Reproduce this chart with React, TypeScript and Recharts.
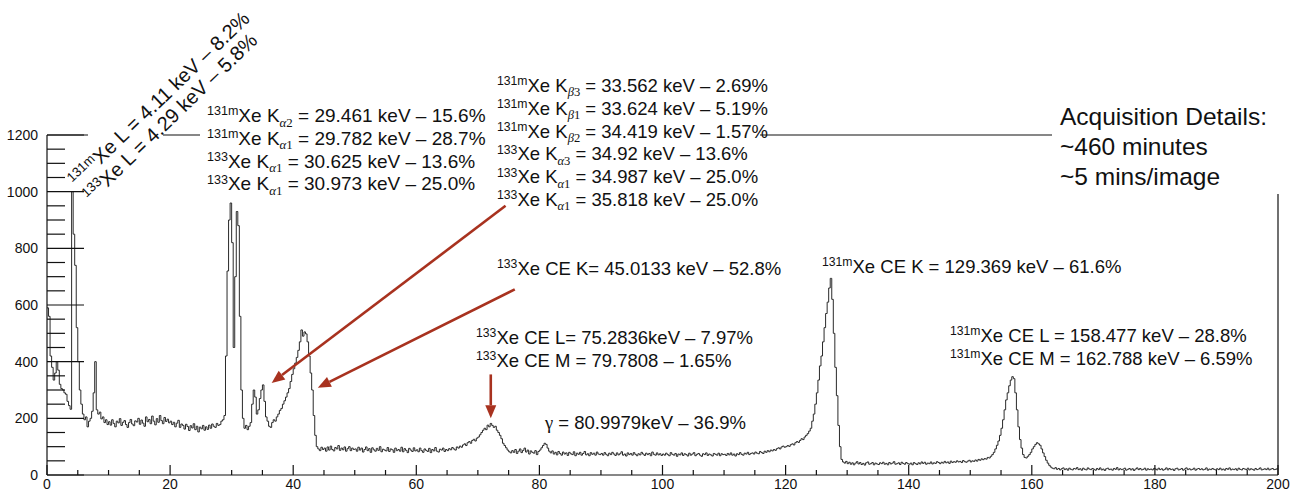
import { LineChart, Line, XAxis, YAxis, ReferenceLine } from "recharts";

// spectrum, 0.25 keV bins, counts
const BIN = 0.25;

const counts0to50 = [
  590, 560, 420, 380, 335, 360, 400, 370, 320, 305, 300, 290, 285, 260, 245, 232, 1000, 850, 740, 520,
  400, 300, 250, 215, 195, 205, 170, 190, 200, 225, 290, 400, 230, 215, 222, 198, 205, 185, 195, 178,
  188, 176, 195, 182, 170, 190, 184, 199, 175, 186, 192, 178, 168, 185, 196, 180, 174, 191, 187, 200,
  179, 194, 183, 172, 205, 188, 196, 181, 208, 190, 177, 199, 186, 210, 192, 181, 203, 189, 197, 184,
  190, 178, 186, 170, 183, 193, 168, 180, 175, 162, 179, 171, 157, 174, 166, 181, 160, 172, 152, 169,
  163, 175, 158, 170, 161, 176, 165, 180, 172, 168, 182, 175, 178, 190, 195, 210, 420, 720, 900, 960,
  820, 450, 700, 930, 880, 560, 300, 200, 165, 175, 160, 172, 185, 250, 300, 275, 215, 230, 270, 300,
  318, 260, 205, 190, 172, 168, 185, 195, 190, 205, 215, 228, 235, 250, 262, 275, 290, 305, 330, 355,
  375, 395, 415, 440, 470, 512, 490, 505, 498, 470, 420, 360, 300, 210, 140, 100, 92, 86, 98, 90,
  95, 84, 99, 88, 102, 90, 85, 97, 92, 104, 87, 95, 89, 99, 84, 93, 100, 86, 95, 90,
];

const counts50to100 = [
  92, 84, 98, 88, 95, 81, 90, 99, 86, 93, 80, 96, 89, 84, 94, 87, 100, 82, 91, 88,
  85, 97, 83, 92, 89, 80, 95, 86, 90, 84, 98, 82, 93, 87, 79, 94, 88, 83, 96, 85,
  89, 82, 95, 86, 80, 92, 87, 83, 94, 79, 90, 85, 97, 84, 81, 91, 88, 95, 83, 90,
  86, 93, 89, 97, 92, 88, 99, 95, 102, 98, 106, 110, 104, 114, 118, 112, 122, 126, 120, 130,
  134, 142, 150, 158, 165, 160, 176, 170, 182, 175, 168, 172, 158, 150, 140, 128, 112, 104, 96, 88,
  82, 78, 86, 80, 90, 76, 84, 92, 79, 87, 95, 81, 88, 74, 85, 80, 77, 86, 72, 83,
  88, 96, 104, 112, 108, 95, 84, 78, 85, 74, 80, 71, 83, 76, 70, 81, 74, 78, 69, 80,
  75, 72, 82, 68, 77, 73, 80, 70, 76, 83, 71, 75, 68, 79, 73, 77, 70, 81, 74, 72,
  76, 70, 79, 73, 68, 77, 72, 80, 74, 69, 78, 71, 75, 82, 70, 74, 67, 78, 72, 76,
  70, 79, 73, 68, 75, 71, 80, 74, 69, 77, 72, 76, 68, 81, 73, 70, 78, 71, 75, 69,
];

const counts100to150 = [
  74, 70, 77, 72, 68, 79, 73, 70, 76, 66, 74, 71, 78, 69, 75, 72, 67, 77, 70, 74,
  79, 68, 73, 76, 70, 66, 75, 72, 78, 69, 74, 71, 67, 76, 73, 70, 77, 68, 75, 72,
  73, 69, 76, 71, 78, 70, 74, 67, 75, 72, 79, 73, 70, 77, 74, 80, 72, 76, 78, 74,
  81, 77, 75, 83, 79, 76, 84, 80, 86, 82, 88, 85, 90, 87, 93, 96, 92, 99, 102, 98,
  100, 104, 101, 107, 110, 106, 114, 118, 115, 122, 128, 125, 134, 140, 146, 155, 165, 190, 215, 250,
  290, 335, 385, 420, 470, 520, 570, 610, 660, 694, 620, 500, 380, 280, 175, 100, 55, 46, 42, 48,
  40, 45, 38, 43, 36, 42, 47, 39, 44, 37, 41, 35, 43, 46, 38, 40, 44, 36, 42, 39,
  37, 43, 40, 45, 38, 41, 36, 44, 39, 42, 47, 38, 40, 43, 37, 45, 41, 38, 44, 40,
  38, 42, 36, 44, 40, 37, 43, 39, 46, 41, 45, 38, 42, 40, 46, 39, 43, 41, 47, 44,
  40, 45, 42, 48, 43, 46, 41, 49, 44, 47, 45, 50, 46, 48, 44, 51, 47, 45, 49, 52,
];

const counts150to200 = [
  46, 50, 48, 53, 49, 55, 52, 57, 54, 58, 56, 62, 60, 66, 72, 80, 92, 105, 120, 140,
  165, 195, 230, 265, 290, 315, 335, 347, 340, 290, 230, 170, 125, 95, 72, 62, 60, 66, 72, 80,
  92, 100, 108, 114, 110, 105, 92, 78, 65, 52, 42, 34, 28, 24, 22, 26, 20, 23, 18, 22,
  25, 19, 22, 17, 24, 20, 18, 23, 21, 26, 19, 22, 17, 24, 20, 18, 25, 21, 19, 23,
  20, 17, 23, 19, 25, 18, 21, 16, 22, 24, 19, 21, 17, 23, 20, 26, 18, 22, 19, 21,
  24, 17, 20, 23, 18, 22, 16, 21, 25, 19, 23, 18, 20, 24, 17, 22, 19, 21, 18, 23,
  21, 18, 24, 19, 22, 17, 20, 25, 18, 23, 19, 21, 16, 22, 24, 18, 20, 23, 17, 21,
  25, 19, 22, 18, 20, 24, 17, 21, 23, 19, 22, 18, 20, 25, 17, 21, 19, 23, 20, 18,
  22, 19, 24, 18, 21, 17, 23, 20, 25, 18, 21, 19, 22, 17, 24, 20, 18, 23, 21, 19,
  24, 18, 22, 20, 17, 23, 19, 21, 25, 18, 20, 22, 19, 24, 18, 21, 23, 19, 20, 22,
];

const xTicks = [
  0, 5, 10, 15, 20, 25, 30, 35, 40, 45, 50, 55, 60, 65, 70, 75, 80, 85, 90, 95, 100,
  105, 110, 115, 120, 125, 130, 135, 140, 145, 150, 155, 160, 165, 170, 175, 180, 185, 190, 195, 200,
];
const yTicks = [
  0, 50, 100, 150, 200, 250, 300, 350, 400, 450, 500, 550, 600, 650, 700, 750, 800, 850, 900, 950,
  1000, 1050, 1100, 1150, 1200,
];

// annotation arrows, [energy, counts] start -> end
const arrows = [
  { from: [74.5, 950], to: [36.5, 325] },
  { from: [76, 655], to: [44, 308] },
  { from: [72.1, 355], to: [72.1, 200] },
];

type Seg = [string, string];

const lLines: Seg[][] = [
  [["sup", "131m"], ["n", "Xe L = 4.11 keV – 8.2%"]],
  [["sup", "133"], ["n", "Xe L = 4.29 keV – 5.8%"]],
];
const kAlphaLines: Seg[][] = [
  [["sup", "131m"], ["n", "Xe K"], ["subi", "α"], ["sub", "2"], ["n", " = 29.461 keV – 15.6%"]],
  [["sup", "131m"], ["n", "Xe K"], ["subi", "α"], ["sub", "1"], ["n", " = 29.782 keV – 28.7%"]],
  [["sup", "133"], ["n", "Xe K"], ["subi", "α"], ["sub", "1"], ["n", " = 30.625 keV – 13.6%"]],
  [["sup", "133"], ["n", "Xe K"], ["subi", "α"], ["sub", "1"], ["n", " = 30.973 keV – 25.0%"]],
];
const kBetaLines: Seg[][] = [
  [["sup", "131m"], ["n", "Xe K"], ["subi", "β"], ["sub", "3"], ["n", " = 33.562 keV – 2.69%"]],
  [["sup", "131m"], ["n", "Xe K"], ["subi", "β"], ["sub", "1"], ["n", " = 33.624 keV – 5.19%"]],
  [["sup", "131m"], ["n", "Xe K"], ["subi", "β"], ["sub", "2"], ["n", " = 34.419 keV – 1.57%"]],
  [["sup", "133"], ["n", "Xe K"], ["subi", "α"], ["sub", "3"], ["n", " = 34.92 keV – 13.6%"]],
  [["sup", "133"], ["n", "Xe K"], ["subi", "α"], ["sub", "1"], ["n", " = 34.987 keV – 25.0%"]],
  [["sup", "133"], ["n", "Xe K"], ["subi", "α"], ["sub", "1"], ["n", " = 35.818 keV – 25.0%"]],
];
const ceK133: Seg[][] = [[["sup", "133"], ["n", "Xe CE K= 45.0133 keV – 52.8%"]]];
const ceK131: Seg[][] = [[["sup", "131m"], ["n", "Xe CE K = 129.369 keV – 61.6%"]]];
const ceLM133: Seg[][] = [
  [["sup", "133"], ["n", "Xe CE L= 75.2836keV – 7.97%"]],
  [["sup", "133"], ["n", "Xe CE M = 79.7808 – 1.65%"]],
];
const gammaLine: Seg[][] = [[["greek", "γ"], ["n", " = 80.9979keV – 36.9%"]]];
const ceLM131: Seg[][] = [
  [["sup", "131m"], ["n", "Xe CE L = 158.477 keV – 28.8%"]],
  [["sup", "131m"], ["n", "Xe CE M = 162.788 keV – 6.59%"]],
];
const acquisition = ["Acquisition Details:", "~460 minutes", "~5 mins/image"];

const chartData = [...counts0to50, ...counts50to100, ...counts100to150, ...counts150to200].map(
  (c, i) => ({ energy: i * BIN, counts: c })
);
chartData.push({ energy: 200, counts: counts150to200[counts150to200.length - 1] });

const FONT = "'Liberation Sans', Arial, sans-serif";
const SERIF = "'Liberation Serif', 'DejaVu Serif', serif";
const INK = "#111";
const ARROW = "#a8321f";

function YTick({ x, y, payload }: any) {
  const major = payload.value % 200 === 0;
  return (
    <g>
      <line x1={x} y1={y} x2={x + (major ? 37 : 18)} y2={y} stroke={INK} strokeWidth={1.2} />
      {major && (
        <text x={x - 9} y={y + 5} textAnchor="end" fontSize={14} fontFamily={FONT} fill={INK}>
          {payload.value}
        </text>
      )}
    </g>
  );
}

function XTick({ x, y, payload }: any) {
  const major = payload.value % 20 === 0;
  return (
    <g>
      <line x1={x} y1={y} x2={x} y2={y - (major ? 10 : 5)} stroke={INK} strokeWidth={1.2} />
      {major && (
        <text x={x} y={y + 14} textAnchor="middle" fontSize={14} fontFamily={FONT} fill={INK}>
          {payload.value}
        </text>
      )}
    </g>
  );
}

function ArrowShape(props: any) {
  const { x1, y1, x2, y2 } = props;
  const a = Math.atan2(y2 - y1, x2 - x1);
  const len = 13;
  const w = 5.5;
  const bx = x2 - len * Math.cos(a);
  const by = y2 - len * Math.sin(a);
  const pts = [
    [x2, y2],
    [bx + w * Math.sin(a), by - w * Math.cos(a)],
    [bx - w * Math.sin(a), by + w * Math.cos(a)],
  ];
  return (
    <g>
      <line x1={x1} y1={y1} x2={bx} y2={by} stroke={ARROW} strokeWidth={2.6} />
      <polygon points={pts.map((p) => p.join(",")).join(" ")} fill={ARROW} />
    </g>
  );
}

function Rich({ x, y, segs, size }: { x: number; y: number; segs: Seg[]; size: number }) {
  let shift = 0;
  return (
    <text x={x} y={y} fontSize={size} fontFamily={FONT} fill={INK}>
      {segs.map(([kind, t], i) => {
        const isSub = kind === "sub" || kind === "subi";
        const target = kind === "sup" ? -size * 0.36 : isSub ? size * 0.24 : 0;
        const dy = target - shift;
        shift = target;
        const fs = kind === "n" || kind === "greek" ? size : isSub ? size * 0.68 : size * 0.66;
        return (
          <tspan
            key={i}
            dy={dy}
            fontSize={fs}
            fontFamily={isSub || kind === "greek" ? SERIF : FONT}
            fontStyle={kind === "subi" ? "italic" : "normal"}
          >
            {t}
          </tspan>
        );
      })}
    </text>
  );
}

function Block({ x, y, lines, gap, size = 18.5 }: any) {
  return (
    <g>
      {lines.map((segs: Seg[], i: number) => (
        <Rich key={i} x={x} y={y + i * gap} segs={segs} size={size} />
      ))}
    </g>
  );
}

export default function App() {
  return (
    <div style={{ position: "absolute", left: 0, top: 0, width: 1296, height: 493, background: "#fff" }}>
      <LineChart
        width={1296}
        height={493}
        data={chartData}
        margin={{ top: 135, right: 18, bottom: 0, left: 46 }}
      >
        <XAxis
          dataKey="energy"
          type="number"
          domain={[0, 200]}
          ticks={xTicks}
          interval={0}
          height={18}
          tickSize={0}
          tickMargin={0}
          tickLine={false}
          tick={XTick}
          axisLine={{ stroke: INK, strokeWidth: 1.2 }}
        />
        <YAxis
          type="number"
          domain={[0, 1200]}
          ticks={yTicks}
          interval={0}
          width={1}
          tickSize={0}
          tickMargin={0}
          tickLine={false}
          tick={YTick}
          axisLine={{ stroke: INK, strokeWidth: 1.2 }}
        />
        <ReferenceLine y={1200} stroke={INK} strokeWidth={1.2} />
        <ReferenceLine x={200} stroke={INK} strokeWidth={1.2} />
        <Line
          type="stepAfter"
          dataKey="counts"
          stroke="#2a2a2a"
          strokeWidth={1}
          dot={false}
          isAnimationActive={false}
        />
        {arrows.map((a, i) => (
          <ReferenceLine
            key={i}
            segment={[
              { x: a.from[0], y: a.from[1] },
              { x: a.to[0], y: a.to[1] },
            ]}
            ifOverflow="visible"
            shape={ArrowShape}
          />
        ))}
      </LineChart>
      <svg
        width={1296}
        height={493}
        style={{ position: "absolute", left: 0, top: 0, pointerEvents: "none" }}
      >
        {/* hide frame where the text boxes sit */}
        <rect x={88} y={130} width={75} height={10} fill="#fff" />
        <rect x={200} y={130} width={560} height={10} fill="#fff" />
        <rect x={1052} y={130} width={244} height={10} fill="#fff" />
        <rect x={1270} y={130} width={26} height={64} fill="#fff" />
        <g transform="translate(77,188) rotate(-44)">
          <Block x={0} y={0} lines={lLines} gap={21} size={20} />
        </g>
        <Block x={207} y={122} lines={kAlphaLines} gap={22.8} size={19} />
        <Block x={497} y={92} lines={kBetaLines} gap={22.8} />
        <Block x={497} y={275} lines={ceK133} gap={22} />
        <Block x={822} y={273} lines={ceK131} gap={22} />
        <Block x={476} y={344} lines={ceLM133} gap={23} />
        <Block x={545} y={429} lines={gammaLine} gap={22} />
        <Block x={950} y={342} lines={ceLM131} gap={22.5} />
        {acquisition.map((t, i) => (
          <text key={i} x={1060} y={125 + i * 30} fontSize={24.5} fontFamily={FONT} fill={INK}>
            {t}
          </text>
        ))}
      </svg>
    </div>
  );
}
